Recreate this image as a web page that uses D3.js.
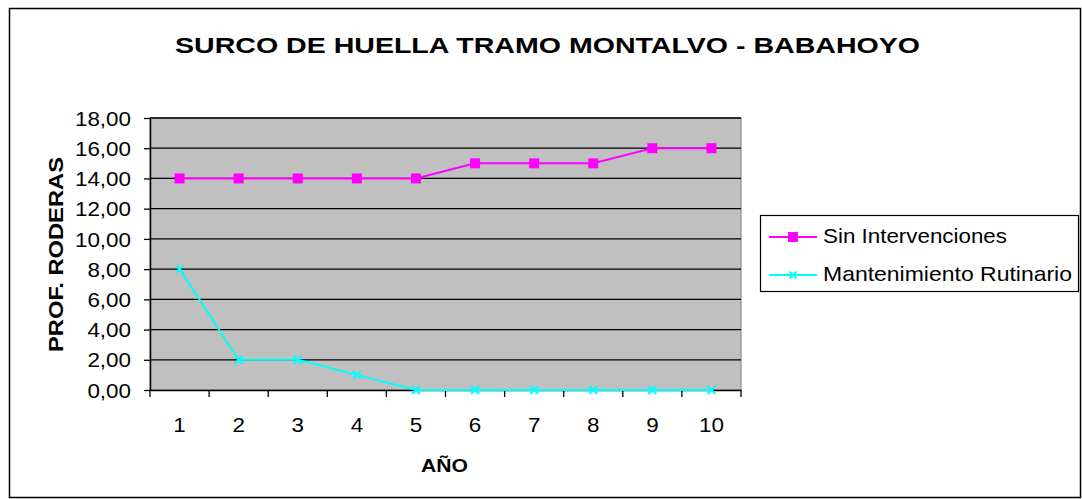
<!DOCTYPE html>
<html><head><meta charset="utf-8">
<script src="https://cdn.jsdelivr.net/npm/d3@7"></script>
<style>body{margin:0;background:#fff}svg{display:block;font-family:Arial,"Liberation Sans",sans-serif}</style>
</head><body>
<svg id="c" width="1082" height="499"></svg>
<script>
const years = ["1","2","3","4","5","6","7","8","9","10"];
const sinIntervenciones = [14,14,14,14,14,15,15,15,16,16];
const mantenimiento = [8,2,2,1,0,0,0,0,0,0];
const yTicks = [0,2,4,6,8,10,12,14,16,18];
const seriesNames = ["Sin Intervenciones","Mantenimiento Rutinario"];
const colors = ["#FF00FF","#00FFFF"];

const svg = d3.select("#c");
const L=150,T=118,R=741,B=390;
const FF = "Arial, Liberation Sans, sans-serif";
function stretch(sel, f){
  sel.each(function(){
    const w = this.getComputedTextLength();
    d3.select(this).attr("textLength", w*f).attr("lengthAdjust","spacingAndGlyphs");
  });
}
function fitTo(sel, w){ sel.attr("textLength", w).attr("lengthAdjust","spacingAndGlyphs"); }

svg.append("rect").attr("x",9.5).attr("y",8.5).attr("width",1071).attr("height",489).attr("fill","#fff").attr("stroke","#000").attr("stroke-width",1.5);

const x = d3.scaleBand().domain(years).range([L,R]);
const y = d3.scaleLinear().domain([0,18]).range([B,T]);

svg.append("rect").attr("x",L).attr("y",T).attr("width",R-L).attr("height",B-T).attr("fill","#C0C0C0").attr("stroke","#808080").attr("stroke-width",1);

svg.append("g").selectAll("line").data(yTicks.filter(d=>d>0)).join("line")
  .attr("x1",L).attr("x2",R).attr("y1",d=>y(d)).attr("y2",d=>y(d)).attr("stroke","#000").attr("stroke-width",1.3);

const fmt = d=>d.toFixed(2).replace(".",",");
const yAxis = svg.append("g").attr("transform",`translate(${L},0)`)
  .call(d3.axisLeft(y).tickValues(yTicks).tickFormat(fmt).tickSize(6).tickSizeOuter(0));
yAxis.select(".domain").attr("stroke","#000").attr("stroke-width",1.5);
yAxis.selectAll(".tick line").attr("stroke","#000").attr("stroke-width",1.3);
yAxis.selectAll("text").attr("font-size",20).attr("fill","#000").attr("x",-19).attr("dy","0.36em").attr("font-family",FF);
stretch(yAxis.selectAll("text"),1.12);

const xAxis = svg.append("g").attr("transform",`translate(0,${B})`)
  .call(d3.axisBottom(x).tickSize(0).tickSizeOuter(0));
xAxis.select(".domain").attr("stroke","#000").attr("stroke-width",1.5);
xAxis.selectAll("text").attr("font-size",20).attr("fill","#000").attr("y",42).attr("dy",null).attr("font-family",FF);
stretch(xAxis.selectAll("text"),1.12);
const bounds = years.map(d=>x(d)).concat([R]);
svg.append("g").selectAll("line").data(bounds).join("line")
  .attr("x1",d=>d).attr("x2",d=>d).attr("y1",B).attr("y2",B+7).attr("stroke","#000").attr("stroke-width",1.3);

const cx = d=>x(d)+x.bandwidth()/2;
const line = d3.line().x((d,i)=>cx(years[i])).y(d=>y(d));

svg.append("path").datum(sinIntervenciones).attr("d",line).attr("fill","none").attr("stroke",colors[0]).attr("stroke-width",2);
svg.append("path").datum(mantenimiento).attr("d",line).attr("fill","none").attr("stroke",colors[1]).attr("stroke-width",2);

svg.append("g").selectAll("rect").data(sinIntervenciones).join("rect")
  .attr("x",(d,i)=>cx(years[i])-5).attr("y",d=>y(d)-5).attr("width",10).attr("height",10).attr("fill",colors[0]);

function xMark(g,px,py,s){
  g.append("path").attr("d",`M${px-s},${py-s}L${px+s},${py+s}M${px-s},${py+s}L${px+s},${py-s}`)
   .attr("stroke",colors[1]).attr("stroke-width",2).attr("fill","none");
}
const mg = svg.append("g");
mantenimiento.forEach((d,i)=>xMark(mg,cx(years[i]),y(d),4));

fitTo(svg.append("text").attr("x",547.5).attr("y",53).attr("text-anchor","middle").attr("font-size",22).attr("font-weight","bold").attr("font-family",FF).text("SURCO DE HUELLA TRAMO MONTALVO - BABAHOYO"),745);
fitTo(svg.append("text").attr("transform","translate(63,254.5) rotate(-90)").attr("text-anchor","middle").attr("font-size",20).attr("font-weight","bold").attr("font-family",FF).text("PROF. RODERAS"),195);
fitTo(svg.append("text").attr("x",444.5).attr("y",472).attr("text-anchor","middle").attr("font-size",19).attr("font-weight","bold").attr("font-family",FF).text("AÑO"),47);

const lg = svg.append("g");
lg.append("rect").attr("x",760.5).attr("y",215.5).attr("width",318).attr("height",76).attr("fill","#fff").attr("stroke","#000").attr("stroke-width",1.2);
const ly = [237,275];
const lw = [184,249];
seriesNames.forEach((n,i)=>{
  lg.append("line").attr("x1",769).attr("x2",817).attr("y1",ly[i]).attr("y2",ly[i]).attr("stroke",colors[i]).attr("stroke-width",2);
  if(i===0) lg.append("rect").attr("x",788).attr("y",ly[i]-5).attr("width",10).attr("height",10).attr("fill",colors[0]);
  else xMark(lg,793,ly[i],3.5);
  fitTo(lg.append("text").attr("x",823).attr("y",ly[i]+6).attr("font-size",21).attr("font-family",FF).text(n),lw[i]);
});
</script>
</body></html>
